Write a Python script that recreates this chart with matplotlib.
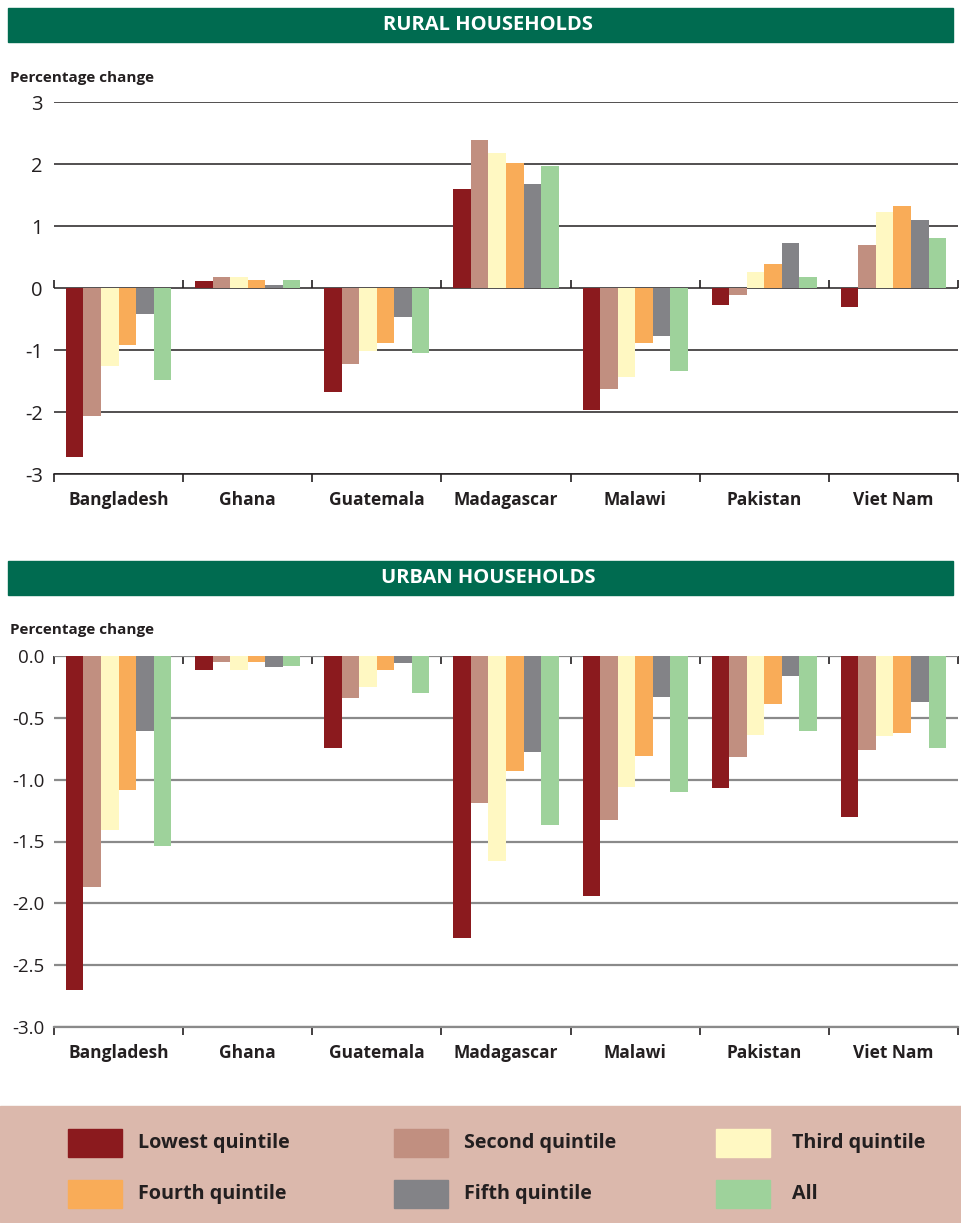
import matplotlib
matplotlib.use("Agg")
import matplotlib.pyplot as plt
from matplotlib.patches import Rectangle
import numpy as np

plt.rcParams['font.family'] = ['Open Sans', 'DejaVu Sans']

countries = ["Bangladesh", "Ghana", "Guatemala", "Madagascar", "Malawi", "Pakistan", "Viet Nam"]
series_names = ["Lowest quintile", "Second quintile", "Third quintile",
                "Fourth quintile", "Fifth quintile", "All"]
colors = ["#8b1a1e", "#c18f80", "#fff8c2", "#f9ac58", "#838387", "#9ed29b"]

rural_lowest = [-2.73, 0.11, -1.68, 1.59, -1.97, -0.28, -0.31]
rural_second = [-2.07, 0.18, -1.22, 2.38, -1.63, -0.12, 0.70]
rural_third = [-1.26, 0.18, -1.02, 2.18, -1.44, 0.26, 1.22]
rural_fourth = [-0.92, 0.13, -0.89, 2.02, -0.89, 0.39, 1.33]
rural_fifth = [-0.42, 0.05, -0.46, 1.67, -0.78, 0.72, 1.10]
rural_all = [-1.49, 0.13, -1.05, 1.97, -1.34, 0.18, 0.80]

urban_lowest = [-2.70, -0.11, -0.74, -2.28, -1.94, -1.07, -1.30]
urban_second = [-1.87, -0.05, -0.34, -1.19, -1.33, -0.82, -0.76]
urban_third = [-1.41, -0.11, -0.25, -1.66, -1.06, -0.64, -0.65]
urban_fourth = [-1.08, -0.05, -0.11, -0.93, -0.81, -0.39, -0.62]
urban_fifth = [-0.61, -0.09, -0.06, -0.78, -0.33, -0.16, -0.37]
urban_all = [-1.54, -0.08, -0.30, -1.37, -1.10, -0.61, -0.74]

rural_ticks = [-3, -2, -1, 0, 1, 2, 3]
rural_ticklabels = ["-3", "-2", "-1", "0", "1", "2", "3"]
urban_ticks = [-3.0, -2.5, -2.0, -1.5, -1.0, -0.5, 0.0]
urban_ticklabels = ["-3.0", "-2.5", "-2.0", "-1.5", "-1.0", "-0.5", "0.0"]

rural = [rural_lowest, rural_second, rural_third, rural_fourth, rural_fifth, rural_all]
urban = [urban_lowest, urban_second, urban_third, urban_fourth, urban_fifth, urban_all]

W, H = 961, 1223
fig = plt.figure(figsize=(W / 100, H / 100), dpi=100)

GREEN = "#006b50"
TXT = "#231f20"


def fx(px):
    return px / W


def fy(py):
    return 1 - py / H


def banner(y0, y1, text):
    fig.patches.append(Rectangle((fx(8), fy(y1)), fx(945), (y1 - y0) / H,
                                 transform=fig.transFigure, color=GREEN, zorder=0))
    fig.text(fx(488), fy((y0 + y1) / 2), text, color="white", fontsize=14.5,
             fontweight="bold", ha="center", va="center")


def draw_panel(ax, data, ticks, ticklabels, ylim, grid_color, grid_lw, zero_loc, zero_dir, tick_fs, pad):
    n = len(countries)
    x = np.arange(n)
    nb = len(data)
    group = 0.815
    bw = group / nb
    for i, vals in enumerate(data):
        ax.bar(x - group / 2 + bw * (i + 0.5), vals, width=bw, color=colors[i],
               zorder=3, linewidth=0)
    ax.set_xlim(-0.5, n - 0.5)
    ax.set_ylim(*ylim)
    ax.set_yticks(ticks)
    ax.set_yticklabels(ticklabels, fontsize=tick_fs, color=TXT)
    ax.tick_params(axis="y", length=0, pad=pad)
    for t in ticks:
        ax.axhline(t, color=grid_color, lw=grid_lw, zorder=1)
    for s in ["left", "right", "top"]:
        ax.spines[s].set_visible(False)
    ax.spines["bottom"].set_color(grid_color)
    ax.spines["bottom"].set_linewidth(grid_lw)
    bounds = np.arange(n + 1) - 0.5
    ax.set_xticks(bounds)
    ax.set_xticklabels([])
    ax.tick_params(axis="x", direction="out", length=6, width=1.2, color=TXT)
    ax.set_xticks(x, minor=True)
    ax.set_xticklabels(countries, minor=True, fontsize=12.5, fontweight="bold", color=TXT)
    ax.tick_params(axis="x", which="minor", length=0, pad=12.5)
    sec = ax.secondary_xaxis(zero_loc)
    sec.set_xticks(bounds)
    sec.set_xticklabels([])
    sec.tick_params(direction=zero_dir, length=6, width=1.2, color=TXT)
    for s in sec.spines.values():
        s.set_visible(False)


# Rural
banner(8, 42, "RURAL HOUSEHOLDS")
fig.text(fx(10), fy(78), "Percentage change", fontsize=11, fontweight="bold",
         color=TXT, ha="left", va="center")
ax1 = fig.add_axes([fx(54), fy(474), fx(904), (474 - 102) / H])
draw_panel(ax1, rural, rural_ticks, rural_ticklabels, (-3, 3), "#231f20", 1.1, 0.5, "out", 14.5, 8)

# Urban
banner(561, 595, "URBAN HOUSEHOLDS")
fig.text(fx(10), fy(630), "Percentage change", fontsize=11, fontweight="bold",
         color=TXT, ha="left", va="center")
ax2 = fig.add_axes([fx(54), fy(1027), fx(904), (1027 - 656) / H])
draw_panel(ax2, urban, urban_ticks, urban_ticklabels, (-3.0, 0.0), "#8a8a8a", 1.6, 1.0, "in", 13.5, 7)

# Legend panel
fig.patches.append(Rectangle((0, fy(1222)), 1, (1222 - 1106) / H,
                             transform=fig.transFigure, color="#dbb8ac", zorder=0))
sq_x = [68, 394, 716]
txt_x = [138, 464, 792]
row_y = [1143, 1194]
for i, name in enumerate(series_names):
    r, c = divmod(i, 3)
    yc = row_y[r]
    fig.patches.append(Rectangle((fx(sq_x[c]), fy(yc + 14)), fx(54), 28 / H,
                                 transform=fig.transFigure, color=colors[i], zorder=1))
    fig.text(fx(txt_x[c]), fy(yc), name, fontsize=14.2, fontweight="bold",
             color=TXT, ha="left", va="center")

fig.savefig("out.png", dpi=100, facecolor="white")
